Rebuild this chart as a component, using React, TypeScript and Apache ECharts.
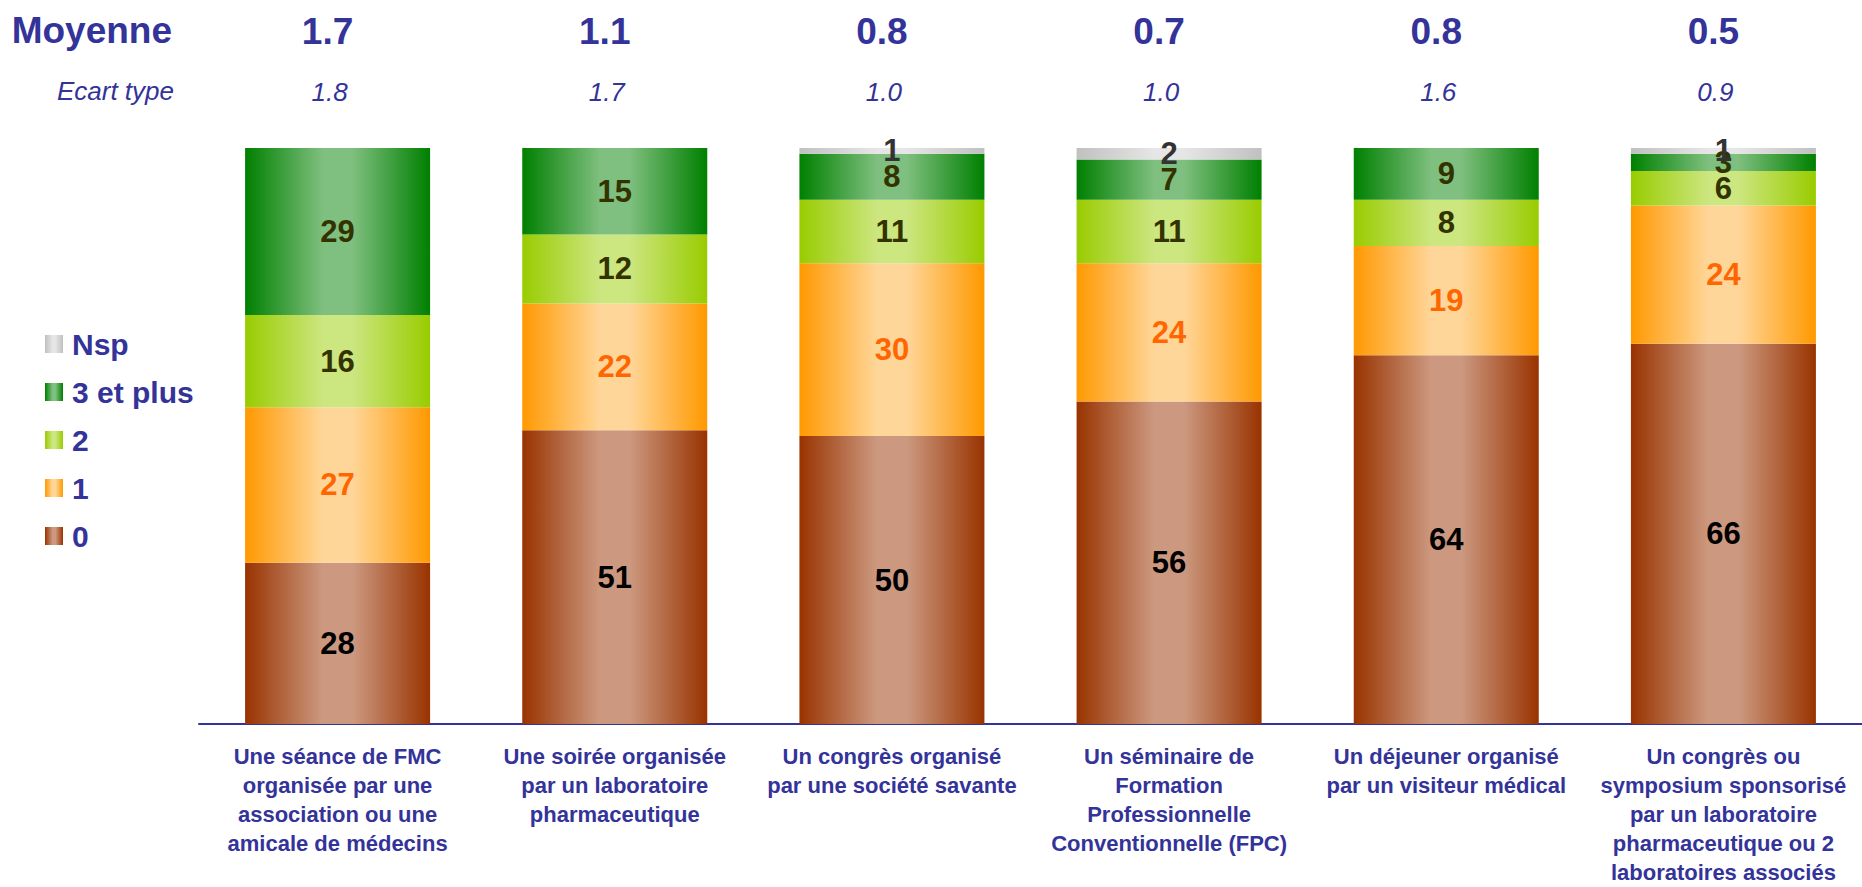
import React, { useEffect, useRef } from 'react';
import * as echarts from 'echarts';

const categories = [
  'Une séance de FMC\norganisée par une\nassociation ou une\namicale de médecins',
  'Une soirée organisée\npar un laboratoire\npharmaceutique',
  'Un congrès organisé\npar une société savante',
  'Un séminaire de\nFormation\nProfessionnelle\nConventionnelle (FPC)',
  'Un déjeuner organisé\npar un visiteur médical',
  'Un congrès ou\nsymposium sponsorisé\npar un laboratoire\npharmaceutique ou 2\nlaboratoires associés',
];

const values0 = [28, 51, 50, 56, 64, 66];
const values1 = [27, 22, 30, 24, 19, 24];
const values2 = [16, 12, 11, 11, 8, 6];
const values3plus = [29, 15, 8, 7, 9, 3];
const valuesNsp = [0, 0, 1, 2, 0, 1];

const means = ['1.7', '1.1', '0.8', '0.7', '0.8', '0.5'];
const stdDevs = ['1.8', '1.7', '1.0', '1.0', '1.6', '0.9'];

const seriesNames = ['0', '1', '2', '3 et plus', 'Nsp'];
const legendOrder = ['Nsp', '3 et plus', '2', '1', '0'];

const FONT = '"Liberation Sans", Arial, Helvetica, sans-serif';
const BLUE = '#333399';

function grad(dark: string, light: string) {
  return {
    type: 'linear',
    x: 0,
    y: 0,
    x2: 1,
    y2: 0,
    colorStops: [
      { offset: 0, color: dark },
      { offset: 0.42, color: light },
      { offset: 0.58, color: light },
      { offset: 1, color: dark },
    ],
  };
}

const styles = [
  { fill: grad('#993300', '#cc9980'), label: '#000000' },
  { fill: grad('#ff9900', '#ffd699'), label: '#ff6600' },
  { fill: grad('#99cc00', '#cce680'), label: '#333300' },
  { fill: grad('#008000', '#7fbf7f'), label: '#333300' },
  { fill: grad('#c0c0c0', '#e6e6e6'), label: '#333333' },
];

const seriesData = [values0, values1, values2, values3plus, valuesNsp];

export default function App() {
  const ref = useRef<HTMLDivElement>(null);

  useEffect(() => {
    document.body.style.margin = '0';
    if (!ref.current) return;
    const chart = echarts.init(ref.current, undefined, { renderer: 'svg' });
    const option: any = {
      animation: false,
      textStyle: { fontFamily: FONT },
      grid: {
        left: 199,
        right: 0,
        top: 148,
        bottom: 163,
        containLabel: false,
        outerBoundsMode: 'none',
      },
      legend: {
        orient: 'vertical',
        left: 45,
        top: 329,
        padding: 0,
        itemWidth: 18,
        itemHeight: 18,
        itemGap: 18,
        icon: 'rect',
        selectedMode: false,
        data: legendOrder,
        textStyle: {
          fontFamily: FONT,
          fontSize: 30,
          fontWeight: 'bold',
          color: BLUE,
          lineHeight: 30,
          padding: [0, 0, 0, 4],
        },
      },
      graphic: [
        {
          type: 'text',
          right: 1862 - 172,
          top: 12,
          style: {
            text: 'Moyenne',
            fontFamily: FONT,
            fontSize: 37,
            fontWeight: 'bold',
            fill: BLUE,
          },
        },
        {
          type: 'text',
          right: 1862 - 174,
          top: 78,
          style: {
            text: 'Ecart type',
            fontFamily: FONT,
            fontSize: 26,
            fontStyle: 'italic',
            fill: BLUE,
          },
        },
      ],
      xAxis: [
        {
          type: 'category',
          data: categories,
          position: 'bottom',
          axisLine: { show: true, lineStyle: { color: BLUE, width: 2 } },
          axisTick: { show: false },
          axisLabel: {
            interval: 0,
            color: BLUE,
            fontFamily: FONT,
            fontWeight: 'bold',
            fontSize: 22,
            lineHeight: 29,
            margin: 18,
          },
        },
        {
          type: 'category',
          data: means,
          position: 'top',
          axisLine: { show: false },
          axisTick: { show: false },
          axisLabel: {
            interval: 0,
            color: BLUE,
            fontFamily: FONT,
            fontWeight: 'bold',
            fontSize: 37,
            verticalAlign: 'middle',
            margin: 117,
            padding: [0, 20, 0, 0],
          },
        },
        {
          type: 'category',
          data: stdDevs,
          position: 'top',
          axisLine: { show: false },
          axisTick: { show: false },
          axisLabel: {
            interval: 0,
            color: BLUE,
            fontFamily: FONT,
            fontStyle: 'italic',
            fontSize: 26,
            verticalAlign: 'middle',
            margin: 56,
            padding: [0, 16, 0, 0],
          },
        },
      ],
      yAxis: {
        type: 'value',
        min: 0,
        max: 100,
        show: false,
        splitLine: { show: false },
      },
      series: seriesNames.map((name, i) => ({
        name,
        type: 'bar',
        stack: 'total',
        barWidth: 185,
        xAxisIndex: 0,
        data: seriesData[i],
        itemStyle: { color: styles[i].fill },
        emphasis: { disabled: true },
        label: {
          show: true,
          position: 'inside',
          color: styles[i].label,
          fontFamily: FONT,
          fontSize: 31,
          fontWeight: 'bold',
          formatter: (p: any) => (p.value ? String(p.value) : ''),
        },
      })),
    };
    chart.setOption(option);
    return () => chart.dispose();
  }, []);

  return <div ref={ref} style={{ width: 1862, height: 887 }} />;
}
